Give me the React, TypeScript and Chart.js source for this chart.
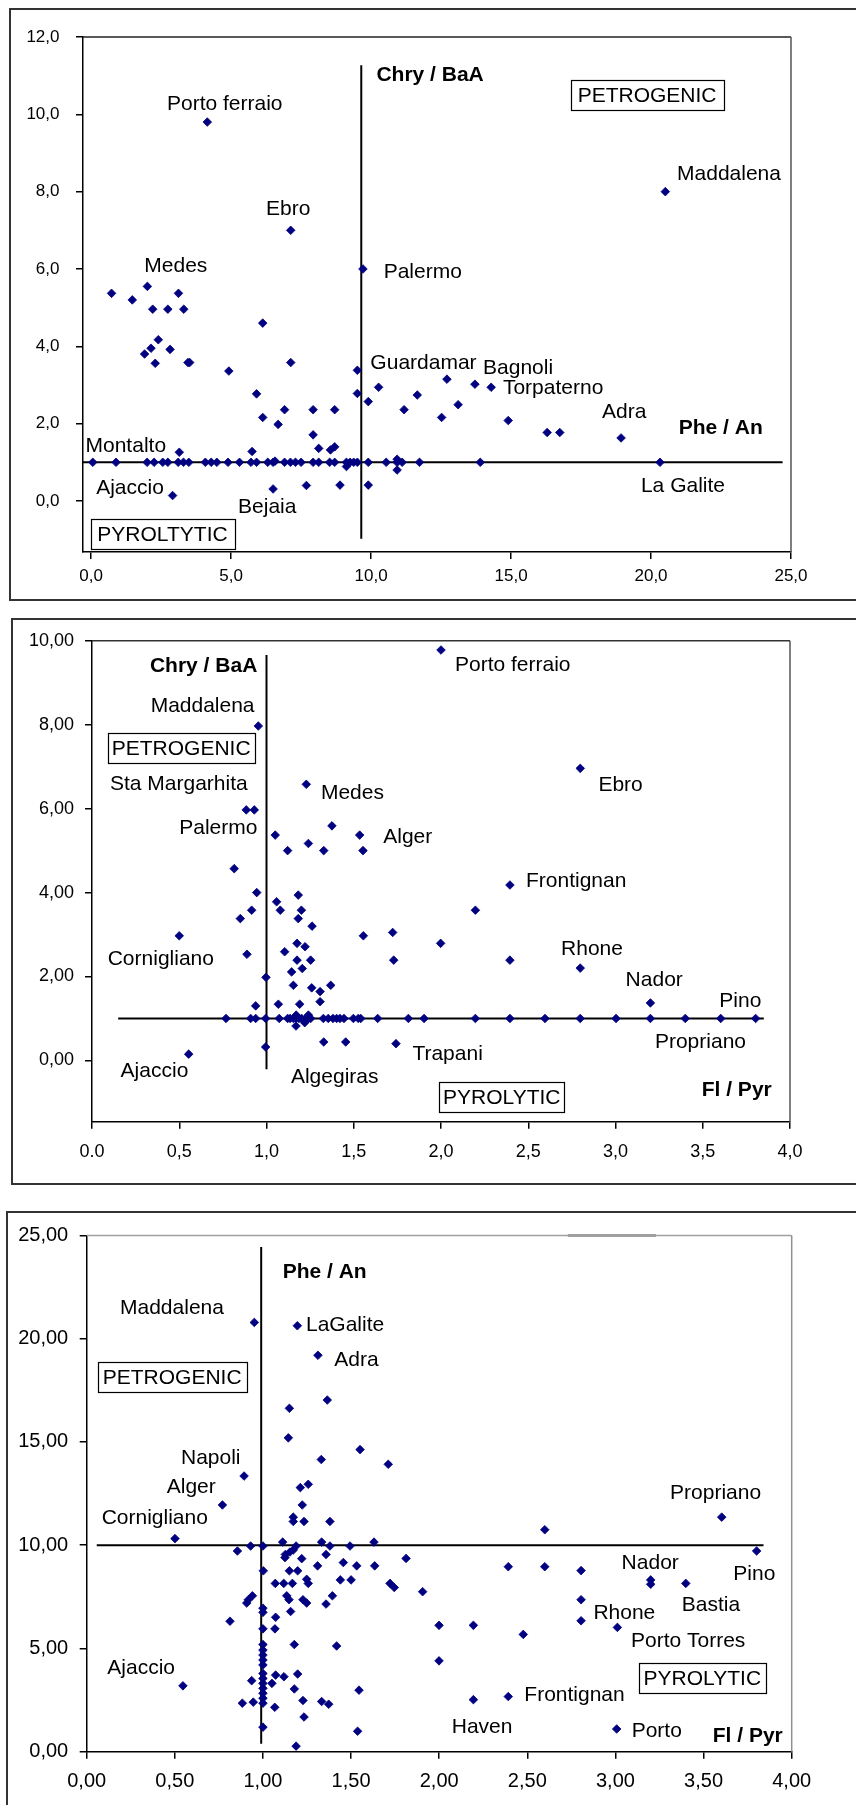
import React, { useEffect, useRef } from 'react';
import { Chart, registerables } from 'chart.js';
Chart.register(...registerables);

const FONT = '"Liberation Sans", Arial, Helvetica, sans-serif';
const NAVY = '#000080';

type Pt = [number, number];
type Lbl = [string, number, number];

// ---------------- Panel 1 : Phe/An (x) vs Chry/BaA (y) ----------------
const p1XTicks = [0, 5, 10, 15, 20, 25];
const p1XTickText = ['0,0', '5,0', '10,0', '15,0', '20,0', '25,0'];
const p1YTicks = [0, 2, 4, 6, 8, 10, 12];
const p1YTickText = ['0,0', '2,0', '4,0', '6,0', '8,0', '10,0', '12,0'];
const p1Points: Pt[] = [
  [4.15, 9.8], [7.13, 7.0], [9.71, 6.0], [20.51, 8.0],
  [0.73, 5.37], [1.47, 5.2], [2.01, 5.55], [3.12, 5.37],
  [2.2, 4.96], [2.74, 4.96], [3.31, 4.96], [6.13, 4.6],
  [1.91, 3.8], [2.14, 3.95], [2.4, 4.17], [2.29, 3.56], [2.82, 3.92], [3.46, 3.58], [3.52, 3.58],
  [4.92, 3.36], [7.13, 3.58], [9.51, 3.38], [9.51, 2.78], [9.9, 2.57], [10.27, 2.94], [11.65, 2.74], [11.18, 2.36],
  [5.91, 2.77], [6.13, 2.16], [6.91, 2.36], [6.68, 1.98], [7.93, 2.36], [8.7, 2.36], [7.93, 1.71],
  [8.13, 1.36], [8.55, 1.32], [8.7, 1.4], [3.15, 1.26], [5.75, 1.28],
  [0.06, 1], [0.89, 1], [2.0, 1], [2.25, 1], [2.56, 1], [2.74, 1], [3.11, 1], [3.3, 1], [3.49, 1],
  [4.08, 1], [4.29, 1], [4.49, 1], [4.89, 1], [5.3, 1], [5.71, 1], [5.91, 1], [6.31, 1], [6.5, 1],
  [6.91, 1], [7.12, 1], [7.3, 1], [7.5, 1], [7.93, 1], [8.13, 1], [8.52, 1], [8.7, 1], [9.12, 1],
  [9.25, 1], [9.38, 1], [9.51, 1], [9.9, 1], [10.54, 1], [10.93, 1], [11.11, 1], [11.73, 1],
  [13.9, 1], [20.32, 1],
  [9.12, 0.89], [10.93, 0.8], [10.93, 1.08], [6.57, 1.03],
  [2.91, 0.14], [6.5, 0.31], [7.69, 0.4], [8.89, 0.41], [9.9, 0.41],
  [12.71, 3.15], [13.71, 3.02], [14.29, 2.94], [13.11, 2.49], [12.52, 2.16], [14.9, 2.08],
  [16.29, 1.77], [16.74, 1.77], [18.93, 1.63],
];
const p1VLine: Pt[] = [[9.65, 11.27], [9.65, -0.98]];
const p1HLine: Pt[] = [[-0.29, 1], [24.7, 1]];
const p1Labels: Lbl[] = [
  ['Porto ferraio', 2.71, 10.27], ['Ebro', 6.25, 7.55], ['Medes', 1.9, 6.08], ['Palermo', 10.45, 5.91],
  ['Maddalena', 20.93, 8.46], ['Guardamar', 9.975, 3.56], ['Bagnoli', 14.0, 3.43], ['Torpaterno', 14.71, 2.92],
  ['Adra', 18.25, 2.29], ['Montalto', -0.2, 1.42], ['Ajaccio', 0.18, 0.33], ['Bejaia', 5.25, -0.15],
  ['La Galite', 19.64, 0.37],
];
const p1Bold: Lbl[] = [['Chry / BaA', 10.19, 11.02], ['Phe / An', 20.99, 1.88]];
const p1Boxes: Lbl[] = [['PETROGENIC', 19.86, 10.5], ['PYROLTYTIC', 2.55, -0.85]];

// ---------------- Panel 2 : Fl/Pyr (x) vs Chry/BaA (y) ----------------
const p2XTicks = [0, 0.5, 1, 1.5, 2, 2.5, 3, 3.5, 4];
const p2XTickText = ['0.0', '0,5', '1,0', '1,5', '2,0', '2,5', '3,0', '3,5', '4,0'];
const p2YTicks = [0, 2, 4, 6, 8, 10];
const p2YTickText = ['0,00', '2,00', '4,00', '6,00', '8,00', '10,00'];
const p2Points: Pt[] = [
  [0.953, 7.97], [0.884, 5.97], [0.93, 5.97], [1.228, 6.58], [1.375, 5.59], [1.534, 5.37], [1.553, 5.0],
  [1.05, 5.37], [1.121, 5.0], [1.24, 5.17], [1.328, 5.0], [0.815, 4.57], [0.944, 4.0], [1.182, 3.94],
  [1.058, 3.78], [1.079, 3.58], [1.2, 3.58], [1.182, 3.38], [0.915, 3.58], [0.85, 3.38], [1.261, 3.2],
  [0.5, 2.97], [1.555, 2.97], [1.723, 3.05], [1.729, 2.39], [0.888, 2.53], [1.104, 2.59], [1.175, 2.79],
  [1.221, 2.71], [1.175, 2.39], [1.253, 2.39], [1.144, 2.11], [1.205, 2.19], [0.997, 1.98], [1.154, 1.79],
  [1.259, 1.73], [1.307, 1.64], [1.368, 1.79], [1.307, 1.4], [0.938, 1.3], [1.068, 1.34], [1.19, 1.34],
  [0.768, 1], [0.909, 1], [0.938, 1], [0.995, 1], [1.073, 1], [1.121, 1], [1.135, 1], [1.154, 1],
  [1.169, 1], [1.186, 1], [1.202, 1], [1.225, 1], [1.24, 1], [1.253, 1], [1.326, 1], [1.354, 1],
  [1.381, 1], [1.402, 1], [1.421, 1], [1.444, 1], [1.498, 1], [1.526, 1], [1.54, 1], [1.637, 1],
  [1.813, 1], [1.903, 1], [2.197, 1], [2.395, 1], [2.596, 1], [2.798, 1], [3.003, 1], [3.2, 1],
  [3.4, 1], [3.603, 1], [3.803, 1],
  [1.169, 0.82], [1.219, 0.9], [1.17, 1.08], [1.24, 1.08],
  [1.328, 0.44], [1.454, 0.44], [1.742, 0.4], [0.995, 0.32], [0.554, 0.15],
  [2.0, 9.78], [2.798, 6.96], [2.395, 4.18], [2.197, 3.58], [1.998, 2.79], [2.395, 2.39], [2.798, 2.2],
  [3.2, 1.37],
];
const p2VLine: Pt[] = [[1.0, 9.66], [1.0, -0.21]];
const p2HLine: Pt[] = [[0.15, 1], [3.85, 1]];
const p2Labels: Lbl[] = [
  ['Maddalena', 0.336, 8.43], ['Sta Margarhita', 0.103, 6.58], ['Palermo', 0.5, 5.53], ['Medes', 1.312, 6.38],
  ['Alger', 1.669, 5.31], ['Porto ferraio', 2.08, 9.42], ['Ebro', 2.902, 6.56], ['Frontignan', 2.487, 4.28],
  ['Cornigliano', 0.09, 2.41], ['Ajaccio', 0.164, -0.25], ['Algegiras', 1.14, -0.41], ['Trapani', 1.836, 0.15],
  ['Rhone', 2.688, 2.65], ['Nador', 3.058, 1.91], ['Pino', 3.595, 1.41], ['Propriano', 3.226, 0.44],
];
const p2Bold: Lbl[] = [['Chry / BaA', 0.332, 9.4], ['Fl / Pyr', 3.494, -0.71]];
const p2Boxes: Lbl[] = [['PETROGENIC', 0.511, 7.44], ['PYROLYTIC', 2.348, -0.87]];

// ---------------- Panel 3 : Fl/Pyr (x) vs Phe/An (y) ----------------
const p3XTicks = [0, 0.5, 1, 1.5, 2, 2.5, 3, 3.5, 4];
const p3XTickText = ['0,00', '0,50', '1,00', '1,50', '2,00', '2,50', '3,00', '3,50', '4,00'];
const p3YTicks = [0, 5, 10, 15, 20, 25];
const p3YTickText = ['0,00', '5,00', '10,00', '15,00', '20,00', '25,00'];
const p3Points: Pt[] = [
  [0.951, 20.79], [1.195, 20.63], [1.312, 19.2], [1.15, 16.63], [1.365, 17.03], [1.144, 15.2],
  [1.551, 14.63], [1.331, 14.15], [1.711, 13.92], [0.893, 13.35], [1.212, 12.79], [1.257, 12.95],
  [0.77, 11.95], [1.223, 11.95], [1.172, 11.36], [1.172, 11.15], [1.233, 11.15], [1.38, 11.15],
  [0.501, 10.32], [0.93, 9.96], [0.855, 9.72], [1.0, 9.96], [1.112, 10.15], [1.333, 10.15], [1.63, 10.15],
  [1.188, 9.96], [1.38, 9.96], [1.494, 9.96], [1.127, 9.55], [1.153, 9.67], [1.172, 9.77], [1.125, 9.4],
  [1.22, 9.35], [1.358, 9.55], [1.812, 9.36], [1.002, 8.76], [1.15, 8.76], [1.197, 8.76], [1.31, 9.0],
  [1.456, 9.16], [1.532, 9.0], [1.634, 9.0], [1.07, 8.15], [1.118, 8.15], [1.167, 8.15], [1.248, 8.35],
  [1.257, 8.15], [1.439, 8.32], [1.5, 8.32], [1.721, 8.15], [1.745, 7.95], [1.906, 7.75],
  [0.94, 7.55], [0.917, 7.36], [0.908, 7.2], [1.135, 7.55], [1.148, 7.36], [1.227, 7.36], [1.248, 7.2],
  [1.358, 7.15], [1.394, 7.55], [1.0, 6.95], [1.0, 6.75], [1.157, 6.79], [1.072, 6.51], [0.813, 6.32],
  [1.0, 5.95], [1.068, 5.95], [1.0, 5.19], [1.178, 5.19], [1.418, 5.12],
  [1.0, 4.92], [1.0, 4.68], [1.0, 4.44], [1.0, 4.2], [1.0, 3.79], [1.0, 3.55], [1.0, 3.31],
  [1.0, 3.07], [1.0, 2.83], [1.0, 2.59], [1.0, 2.35], [1.0, 1.19],
  [0.936, 3.44], [1.072, 3.71], [1.119, 3.63], [1.197, 3.76], [1.051, 3.31], [0.546, 3.19],
  [1.178, 3.04], [1.545, 2.98], [0.883, 2.35], [0.945, 2.4], [1.227, 2.48], [1.333, 2.43],
  [1.373, 2.3], [1.067, 2.15], [1.233, 1.68], [1.537, 0.99], [1.188, 0.27],
  [3.603, 11.36], [2.599, 10.75], [3.801, 9.72], [2.392, 8.96], [2.599, 8.96], [2.805, 8.77],
  [3.2, 8.32], [3.2, 8.11], [3.399, 8.15], [2.805, 7.36], [2.805, 6.34], [3.011, 6.02],
  [1.999, 6.12], [2.194, 6.12], [2.477, 5.68], [1.999, 4.4], [2.194, 2.52], [2.392, 2.67], [3.007, 1.1],
];
const p3VLine: Pt[] = [[0.99, 24.44], [0.99, 0.38]];
const p3HLine: Pt[] = [[0.057, 10], [3.84, 10]];
const p3TopMark: Pt[] = [[2.73, 25], [3.23, 25]];
const p3Labels: Lbl[] = [
  ['Maddalena', 0.189, 21.48], ['LaGalite', 1.244, 20.64], ['Adra', 1.405, 18.95], ['Napoli', 0.535, 14.2],
  ['Alger', 0.454, 12.8], ['Cornigliano', 0.085, 11.32], ['Ajaccio', 0.117, 4.03], ['Propriano', 3.31, 12.52],
  ['Nador', 3.035, 9.15], ['Pino', 3.669, 8.6], ['Bastia', 3.376, 7.08], ['Rhone', 2.875, 6.71],
  ['Porto Torres', 3.088, 5.35], ['Frontignan', 2.483, 2.72], ['Haven', 2.071, 1.19], ['Porto', 3.092, 0.99],
];
const p3Bold: Lbl[] = [['Phe / An', 1.112, 23.24], ['Fl / Pyr', 3.552, 0.75]];
const p3Boxes: Lbl[] = [['PETROGENIC', 0.485, 18.13], ['PYROLYTIC', 3.493, 3.55]];

interface Spec {
  left: number; top: number; width: number; height: number;
  padTop: number; padRight: number; yAxisW: number; xAxisH: number;
  xMin: number; xMax: number; yMin: number; yMax: number;
  xTicks: number[]; xTickText: string[]; yTicks: number[]; yTickText: string[];
  tickFont: number; xTickPad: number; yTickPad: number;
  points: Pt[]; vLine: Pt[]; hLine: Pt[]; extra?: Pt[];
  labels: Lbl[]; bold: Lbl[]; boxes: Lbl[];
  topBorder: string; rightBorder: string; boxPad: number;
}

const specs: Spec[] = [
  {
    left: 10, top: 9, width: 846, height: 591, padTop: 28, padRight: 65, yAxisW: 73, xAxisH: 48,
    xMin: -0.29, xMax: 25, yMin: -1.32, yMax: 12,
    xTicks: p1XTicks, xTickText: p1XTickText, yTicks: p1YTicks, yTickText: p1YTickText,
    tickFont: 17, xTickPad: 7.5, yTickPad: 16.5,
    points: p1Points, vLine: p1VLine, hLine: p1HLine,
    labels: p1Labels, bold: p1Bold, boxes: p1Boxes, topBorder: '#222', rightBorder: '#555', boxPad: 7,
  },
  {
    left: 12, top: 619, width: 844, height: 565, padTop: 21.7, padRight: 66, yAxisW: 80, xAxisH: 62.3,
    xMin: 0, xMax: 4, yMin: -1.46, yMax: 10,
    xTicks: p2XTicks, xTickText: p2XTickText, yTicks: p2YTicks, yTickText: p2YTickText,
    tickFont: 18, xTickPad: 12.5, yTickPad: 11,
    points: p2Points, vLine: p2VLine, hLine: p2HLine,
    labels: p2Labels, bold: p2Bold, boxes: p2Boxes, topBorder: '#333', rightBorder: '#555', boxPad: 4,
  },
  {
    left: 6, top: 1212, width: 850, height: 593, padTop: 18, padRight: 64.3, yAxisW: 80.7, xAxisH: 53.3,
    xMin: 0, xMax: 4, yMin: 0, yMax: 25,
    xTicks: p3XTicks, xTickText: p3XTickText, yTicks: p3YTicks, yTickText: p3YTickText,
    tickFont: 20, xTickPad: 11, yTickPad: 11.5,
    points: p3Points, vLine: p3VLine, hLine: p3HLine, extra: p3TopMark,
    labels: p3Labels, bold: p3Bold, boxes: p3Boxes, topBorder: '#a0a0a0', rightBorder: '#909090', boxPad: 5,
  },
];

function makePlugin(s: Spec) {
  return {
    id: 'decor',
    afterDatasetsDraw(chart: any) {
      const { ctx, chartArea: a } = chart;
      const xs = chart.scales.x;
      const ys = chart.scales.y;
      // plot border top/right
      ctx.save();
      ctx.lineWidth = 1.5;
      ctx.strokeStyle = s.topBorder;
      ctx.beginPath();
      ctx.moveTo(a.left, a.top);
      ctx.lineTo(a.right, a.top);
      ctx.stroke();
      ctx.strokeStyle = s.rightBorder;
      ctx.beginPath();
      ctx.moveTo(a.right, a.top);
      ctx.lineTo(a.right, a.bottom);
      ctx.stroke();
      ctx.restore();

      ctx.save();
      ctx.beginPath();
      ctx.rect(a.left, a.top, a.right - a.left, a.bottom - a.top);
      ctx.clip();
      ctx.fillStyle = '#000';
      ctx.textBaseline = 'middle';
      ctx.textAlign = 'left';
      ctx.font = `21px ${FONT}`;
      s.labels.forEach(([t, x, y]) => ctx.fillText(t, xs.getPixelForValue(x), ys.getPixelForValue(y)));
      ctx.font = `bold 21px ${FONT}`;
      s.bold.forEach(([t, x, y]) => ctx.fillText(t, xs.getPixelForValue(x), ys.getPixelForValue(y)));
      ctx.font = `21px ${FONT}`;
      ctx.textAlign = 'center';
      s.boxes.forEach(([t, x, y]) => {
        const px = xs.getPixelForValue(x);
        const py = ys.getPixelForValue(y);
        const w = Math.round(ctx.measureText(t).width + 2 * s.boxPad);
        const h = 30;
        const bx = Math.round(px - w / 2) + 0.5;
        const by = Math.round(py - h / 2) + 0.5;
        ctx.fillStyle = '#fff';
        ctx.fillRect(bx, by, w, h);
        ctx.strokeStyle = '#000';
        ctx.lineWidth = 1.2;
        ctx.strokeRect(bx, by, w, h);
        ctx.fillStyle = '#000';
        ctx.fillText(t, px, py + 1);
      });
      ctx.restore();
    },
  };
}

function Panel({ s }: { s: Spec }) {
  const ref = useRef<HTMLCanvasElement | null>(null);
  useEffect(() => {
    if (!ref.current) return;
    const toXY = (arr: Pt[]) => arr.map(([x, y]) => ({ x, y }));
    const lineDs = (arr: Pt[], color: string, width: number, clip: any) => ({
      data: toXY(arr), showLine: true, borderColor: color, borderWidth: width,
      pointRadius: 0, fill: false, order: 1, clip,
    });
    const datasets: any[] = [
      {
        data: toXY(s.points), pointStyle: 'rectRot', pointRadius: 4.3, pointBorderWidth: 0.8,
        backgroundColor: NAVY, borderColor: NAVY, order: 0,
      },
      lineDs(s.vLine, '#000', 2, undefined),
      lineDs(s.hLine, '#000', 2, undefined),
    ];
    if (s.extra) datasets.push(lineDs(s.extra, '#404040', 2, false));
    const axis = (which: 'x' | 'y') => {
      const isX = which === 'x';
      const ticks = isX ? s.xTicks : s.yTicks;
      const texts = isX ? s.xTickText : s.yTickText;
      return {
        type: 'linear',
        min: isX ? s.xMin : s.yMin,
        max: isX ? s.xMax : s.yMax,
        afterBuildTicks: (sc: any) => { sc.ticks = ticks.map((v) => ({ value: v })); },
        afterFit: (sc: any) => { if (isX) sc.height = s.xAxisH; else sc.width = s.yAxisW; },
        grid: { drawOnChartArea: false, drawTicks: true, tickLength: 7, color: '#000', lineWidth: 1.5 },
        border: { display: true, color: '#000', width: 1.5 },
        ticks: {
          autoSkip: false, maxRotation: 0, color: '#000',
          padding: isX ? s.xTickPad : s.yTickPad,
          font: { family: FONT, size: s.tickFont },
          callback: (v: number) => {
            const i = ticks.findIndex((t) => Math.abs(t - v) < 1e-9);
            return i >= 0 ? texts[i] : '';
          },
        },
      };
    };
    const chart = new Chart(ref.current, {
      type: 'scatter',
      data: { datasets },
      options: {
        animation: false,
        responsive: false,
        events: [],
        layout: { padding: { top: s.padTop, right: s.padRight, left: 0, bottom: 0 } },
        plugins: { legend: { display: false }, tooltip: { enabled: false } },
        scales: { x: axis('x') as any, y: axis('y') as any },
      },
      plugins: [makePlugin(s) as any],
    } as any);
    return () => chart.destroy();
  }, [s]);
  return (
    <canvas
      ref={ref}
      width={s.width}
      height={s.height}
      style={{ position: 'absolute', left: s.left, top: s.top, width: s.width, height: s.height }}
    />
  );
}

export default function App() {
  return (
    <div style={{ position: 'absolute', left: 0, top: 0, width: 856, height: 1805, overflow: 'hidden', background: '#fff' }}>
      <div style={{ position: 'absolute', left: 9, top: 8, width: 900, height: 593, border: '2px solid #333', boxSizing: 'border-box' }} />
      <div style={{ position: 'absolute', left: 11, top: 618, width: 900, height: 567, border: '2px solid #333', boxSizing: 'border-box' }} />
      <div style={{ position: 'absolute', left: 6, top: 1211, width: 900, height: 700, border: '2px solid #333', boxSizing: 'border-box' }} />
      {specs.map((s, i) => <Panel key={i} s={s} />)}
    </div>
  );
}
